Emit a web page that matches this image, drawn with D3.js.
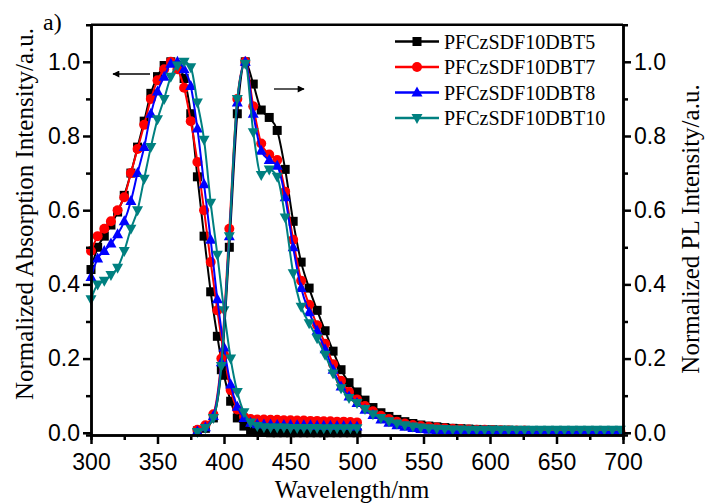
<!DOCTYPE html>
<html>
<head>
<meta charset="utf-8">
<script src="https://cdn.jsdelivr.net/npm/d3@7"></script>
<style>
  body { margin: 0; background: #fff; }
</style>
</head>
<body>
<svg id="svg1" width="705" height="504"></svg>
<script>
// absorption, 300-500 nm every 5 nm
var absX = d3.range(300, 501, 5);
var absDBT5 = [0.44,0.50,0.53,0.56,0.595,0.64,0.70,0.77,0.84,0.915,0.96,0.99,1.0,0.99,0.955,0.86,0.69,0.53,0.38,0.26,0.155,0.085,0.04,0.018,0.005,0.002,0.001,0,0,0,0,0,0,0,0,0,0,0,0,0,0];
var absDBT7 = [0.49,0.53,0.55,0.57,0.60,0.635,0.70,0.765,0.83,0.90,0.95,0.98,1.0,0.98,0.93,0.84,0.73,0.60,0.46,0.33,0.21,0.115,0.063,0.043,0.037,0.036,0.036,0.035,0.035,0.034,0.034,0.033,0.033,0.032,0.032,0.031,0.031,0.030,0.030,0.029,0.028];
var absDBT8 = [0.42,0.47,0.49,0.51,0.535,0.57,0.625,0.70,0.77,0.86,0.92,0.96,0.995,1.0,0.98,0.935,0.82,0.67,0.52,0.36,0.23,0.13,0.07,0.04,0.027,0.023,0.022,0.022,0.021,0.021,0.021,0.020,0.020,0.020,0.019,0.019,0.019,0.018,0.018,0.018,0.017];
var absDBT10 = [0.36,0.40,0.41,0.425,0.445,0.49,0.55,0.60,0.685,0.77,0.845,0.90,0.96,0.99,1.0,0.985,0.89,0.79,0.62,0.48,0.33,0.20,0.11,0.055,0.028,0.018,0.015,0.014,0.014,0.014,0.013,0.013,0.013,0.013,0.013,0.012,0.012,0.012,0.012,0.012,0.012];

// photoluminescence, 380-698 nm every 6 nm
var plX = d3.range(380, 699, 6);
var plDBT5 = [0.005,0.012,0.04,0.17,0.50,0.86,1.0,0.94,0.87,0.85,0.815,0.71,0.57,0.46,0.39,0.33,0.275,0.22,0.17,0.135,0.11,0.088,0.068,0.054,0.044,0.036,0.030,0.025,0.021,0.018,0.016,0.014,0.012,0.011,0.010,0.009,0.008,0.008,0.007,0.007,0.006,0.006,0.006,0.005,0.005,0.005,0.005,0.004,0.004,0.004,0.004,0.004,0.004,0.004];
var plDBT7 = [0.008,0.02,0.05,0.20,0.55,0.90,1.0,0.88,0.78,0.75,0.735,0.65,0.52,0.41,0.345,0.29,0.24,0.185,0.14,0.11,0.09,0.072,0.058,0.046,0.037,0.030,0.025,0.021,0.018,0.016,0.014,0.012,0.011,0.010,0.009,0.008,0.008,0.007,0.007,0.006,0.006,0.006,0.005,0.005,0.005,0.005,0.004,0.004,0.004,0.004,0.004,0.004,0.004,0.004];
var plDBT8 = [0.004,0.015,0.045,0.19,0.53,0.89,1.0,0.86,0.76,0.735,0.72,0.635,0.50,0.39,0.325,0.275,0.225,0.17,0.125,0.098,0.08,0.062,0.048,0.036,0.027,0.020,0.016,0.013,0.010,0.008,0.007,0.006,0.005,0.005,0.004,0.004,0.004,0.003,0.003,0.003,0.003,0.003,0.003,0.002,0.002,0.002,0.002,0.002,0.002,0.002,0.002,0.002,0.002,0.002];
var plDBT10 = [0.002,0.013,0.04,0.18,0.53,0.90,0.995,0.81,0.695,0.71,0.69,0.58,0.43,0.34,0.295,0.255,0.21,0.16,0.12,0.094,0.08,0.064,0.05,0.04,0.031,0.025,0.02,0.017,0.014,0.012,0.011,0.010,0.009,0.009,0.008,0.008,0.008,0.008,0.008,0.008,0.008,0.008,0.008,0.008,0.008,0.008,0.008,0.008,0.008,0.008,0.008,0.008,0.008,0.008];

var names = ["PFCzSDF10DBT5", "PFCzSDF10DBT7", "PFCzSDF10DBT8", "PFCzSDF10DBT10"];
var colors = ["#000000", "#ff0000", "#0000ff", "#008080"];
var symbols = ["square", "circle", "up", "down"];
var absAll = [absDBT5, absDBT7, absDBT8, absDBT10];
var plAll = [plDBT5, plDBT7, plDBT8, plDBT10];

var serif = "'Liberation Serif', 'Times New Roman', serif";
var sans = "'Liberation Sans', Arial, sans-serif";

var svg = d3.select("#svg1");
var x = d3.scaleLinear().domain([300, 700]).range([91, 623]);
var y = d3.scaleLinear().domain([-0.006, 1.1]).range([435, 24.7]);

var line = d3.line()
    .x(function(d) { return x(d[0]); })
    .y(function(d) { return y(d[1]); })
    .curve(d3.curveMonotoneX);

function marker(g, type, cx, cy, col) {
  if (type == "square") {
    g.append("rect").attr("x", cx - 4.5).attr("y", cy - 4.5).attr("width", 9).attr("height", 9).attr("fill", col);
  } else if (type == "circle") {
    g.append("circle").attr("cx", cx).attr("cy", cy).attr("r", 5).attr("fill", col);
  } else {
    var s = type == "up" ? 1 : -1;
    g.append("path")
      .attr("d", "M" + cx + "," + (cy - 6 * s) + "L" + (cx + 5.5) + "," + (cy + 4 * s) + "L" + (cx - 5.5) + "," + (cy + 4 * s) + "Z")
      .attr("fill", col);
  }
}

var plot = svg.append("g");
[absAll, plAll].forEach(function(set, k) {
  var xs = k == 0 ? absX : plX;
  set.forEach(function(vals, i) {
    var pts = xs.map(function(v, j) { return [v, vals[j]]; });
    var g = plot.append("g");
    g.append("path").attr("d", line(pts)).attr("fill", "none")
      .attr("stroke", colors[i]).attr("stroke-width", 2);
    pts.forEach(function(p) { marker(g, symbols[i], x(p[0]), y(p[1]), colors[i]); });
  });
});

// axes
var majY = [0, 0.2, 0.4, 0.6, 0.8, 1.0];
var minY = [0.1, 0.3, 0.5, 0.7, 0.9];
var majX = d3.range(300, 701, 50);
var minX = d3.range(325, 700, 50);

function styleAxis(g) {
  g.select(".domain").attr("stroke-width", 2.5);
  g.selectAll(".tick line").attr("stroke-width", 2.5);
  g.selectAll(".tick text").style("font-family", sans).style("font-size", "23px");
}

svg.append("g").attr("transform", "translate(91,0)")
  .call(d3.axisLeft(y).tickValues(majY).tickSizeInner(8).tickSizeOuter(0).tickPadding(3).tickFormat(d3.format(".1f")))
  .call(styleAxis);
svg.append("g").attr("transform", "translate(91,0)")
  .call(d3.axisLeft(y).tickValues(minY).tickSize(5).tickFormat(""))
  .call(styleAxis);
svg.append("g").attr("transform", "translate(623,0)")
  .call(d3.axisRight(y).tickValues(majY).tickSizeInner(8).tickSizeOuter(0).tickPadding(3).tickFormat(d3.format(".1f")))
  .call(styleAxis);
svg.append("g").attr("transform", "translate(623,0)")
  .call(d3.axisRight(y).tickValues(minY).tickSize(5).tickFormat(""))
  .call(styleAxis);
svg.append("g").attr("transform", "translate(0,435)")
  .call(d3.axisBottom(x).tickValues(majX).tickSizeInner(9).tickSizeOuter(0).tickPadding(10))
  .call(styleAxis);
svg.append("g").attr("transform", "translate(0,435)")
  .call(d3.axisBottom(x).tickValues(minX).tickSize(5).tickFormat(""))
  .call(styleAxis);
svg.append("line").attr("x1", 91).attr("x2", 623).attr("y1", 24.7).attr("y2", 24.7)
  .attr("stroke", "#000").attr("stroke-width", 2.5);

// titles
function ttl(size) {
  return svg.append("text").style("font-family", serif).style("font-size", size + "px");
}
ttl(24.5).attr("text-anchor", "middle").attr("x", 352).attr("y", 498).text("Wavelength/nm");
ttl(25).attr("text-anchor", "middle").attr("transform", "translate(33,214) rotate(-90)")
  .text("Normalized Absorption Intensity/a.u.");
ttl(25).attr("text-anchor", "middle").attr("transform", "translate(699,229) rotate(-90)")
  .text("Normalized PL Intensity/a.u.");
ttl(24).attr("x", 43).attr("y", 30).text("a)");

// arrows
var defs = svg.append("defs");
defs.append("marker").attr("id", "ah").attr("viewBox", "0 0 10 10").attr("refX", 9).attr("refY", 5)
  .attr("markerWidth", 11).attr("markerHeight", 7).attr("markerUnits", "userSpaceOnUse").attr("orient", "auto")
  .append("path").attr("d", "M0,0L10,5L0,10Z").attr("fill", "#000");
svg.append("line").attr("x1", 150).attr("y1", 74).attr("x2", 113).attr("y2", 74)
  .attr("stroke", "#000").attr("stroke-width", 1.3).attr("marker-end", "url(#ah)");
svg.append("line").attr("x1", 274).attr("y1", 89).attr("x2", 304).attr("y2", 89)
  .attr("stroke", "#000").attr("stroke-width", 1.3).attr("marker-end", "url(#ah)");

// legend
var leg = svg.append("g");
names.forEach(function(n, i) {
  var ly = 41.5 + i * 25.5;
  leg.append("line").attr("x1", 395).attr("x2", 439).attr("y1", ly).attr("y2", ly)
    .attr("stroke", colors[i]).attr("stroke-width", 2.5);
  marker(leg, symbols[i], 417, ly, colors[i]);
  leg.append("text").style("font-family", serif).style("font-size", "20px")
    .attr("x", 444).attr("y", ly + 7).text(n);
});
</script>
</body>
</html>
